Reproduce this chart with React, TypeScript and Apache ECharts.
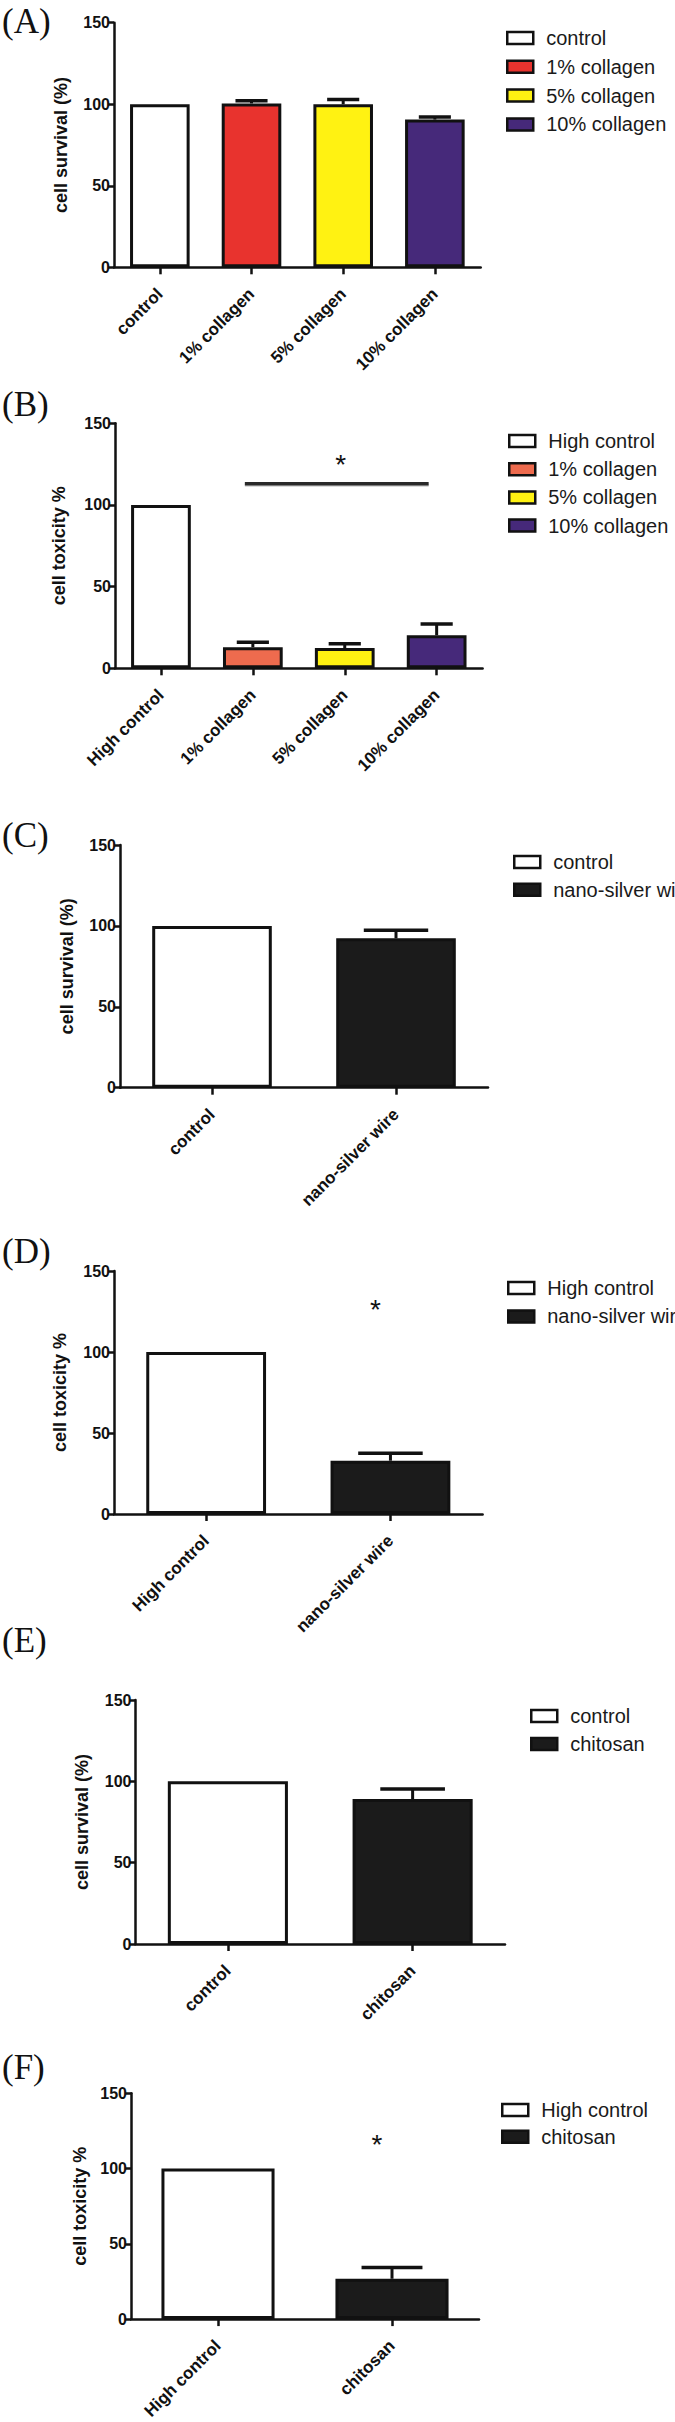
import React, { useEffect, useRef } from "react";
import * as echarts from "echarts";

// ---------- data ----------
const catsA = ["control", "1% collagen", "5% collagen", "10% collagen"];
const meansA = [100, 100.5, 100, 90.6];
const errA = [0, 1.7, 2.9, 1.5];

const catsB = ["High control", "1% collagen", "5% collagen", "10% collagen"];
const meansB = [100, 12.9, 12.4, 20.2];
const errB = [0, 3.0, 2.7, 6.9];
const sigLineB = [1, 3, 113]; // from category, to category, level
const sigStarB = 125;

const catsC = ["control", "nano-silver wire"];
const meansC = [100, 92.3];
const errC = [0, 5.0];

const catsD = ["High control", "nano-silver wire"];
const meansD = [100, 32.9];
const errD = [0, 4.6];
const sigStarD = 130;

const catsE = ["control", "chitosan"];
const meansE = [100, 89.1];
const errE = [0, 6.2];

const catsF = ["High control", "chitosan"];
const meansF = [100, 26.8];
const errF = [0, 7.4];
const sigStarF = 120;

const yTicks = [0, 50, 100, 150];

// ---------- styles ----------
const colorsA = ["#ffffff", "#e8332e", "#fff212", "#46297a"];
const colorsB = ["#ffffff", "#ee6b4e", "#fff212", "#46297a"];
const colorsBW = ["#ffffff", "#1b1b1b"];

const SANS = 'Arial, "Liberation Sans", Helvetica, sans-serif';
const SERIF = '"Times New Roman", "Liberation Serif", serif';
const INK = "#111111";

type Panel = {
  label: string;
  labelTop: number;
  cats: string[];
  means: number[];
  errs: number[];
  colors: string[];
  yName: string;
  grid: { left: number; top: number; width: number; height: number };
  nameGap: number;
  legend: { left: number; top: number; gap: number };
  sigLine?: number[];
  sigLineStar?: number;
  star?: number;
};

const panels: Panel[] = [
  {
    label: "(A)", labelTop: 4, cats: catsA, means: meansA, errs: errA, colors: colorsA,
    yName: "cell survival (%)",
    grid: { left: 114, top: 22.7, width: 366.7, height: 244.6 }, nameGap: 44,
    legend: { left: 506, top: 28, gap: 8.8 },
  },
  {
    label: "(B)", labelTop: 387, cats: catsB, means: meansB, errs: errB, colors: colorsB,
    yName: "cell toxicity %",
    grid: { left: 115, top: 423.3, width: 367.6, height: 245 }, nameGap: 47,
    legend: { left: 508, top: 431, gap: 8.2 },
    sigLine: sigLineB, sigLineStar: sigStarB,
  },
  {
    label: "(C)", labelTop: 818, cats: catsC, means: meansC, errs: errC, colors: colorsBW,
    yName: "cell survival (%)",
    grid: { left: 120, top: 845, width: 368, height: 242.7 }, nameGap: 44,
    legend: { left: 513, top: 852, gap: 7.7 },
  },
  {
    label: "(D)", labelTop: 1234, cats: catsD, means: meansD, errs: errD, colors: colorsBW,
    yName: "cell toxicity %",
    grid: { left: 114, top: 1271, width: 368.6, height: 243 }, nameGap: 45,
    legend: { left: 507, top: 1278, gap: 8.4 },
    star: sigStarD,
  },
  {
    label: "(E)", labelTop: 1623, cats: catsE, means: meansE, errs: errE, colors: colorsBW,
    yName: "cell survival (%)",
    grid: { left: 135.5, top: 1700, width: 369.5, height: 244 }, nameGap: 45,
    legend: { left: 530, top: 1706, gap: 8 },
  },
  {
    label: "(F)", labelTop: 2050, cats: catsF, means: meansF, errs: errF, colors: colorsBW,
    yName: "cell toxicity %",
    grid: { left: 131, top: 2093.3, width: 348, height: 230.7 }, nameGap: 42,
    legend: { left: 501, top: 2100, gap: 6.7 },
    star: sigStarF,
  },
];

function buildOption() {
  const title: any[] = [];
  const grid: any[] = [];
  const xAxis: any[] = [];
  const yAxis: any[] = [];
  const legend: any[] = [];
  const series: any[] = [];

  panels.forEach((p, gi) => {
    title.push({
      text: p.label, left: 2, top: p.labelTop, padding: 0,
      textStyle: { fontFamily: SERIF, fontSize: 35, fontWeight: "normal", color: "#111" },
    });
    grid.push({ left: p.grid.left, top: p.grid.top, width: p.grid.width, height: p.grid.height, containLabel: false });
    xAxis.push({
      type: "category", gridIndex: gi, data: p.cats, boundaryGap: true,
      axisLine: { show: true, lineStyle: { color: INK, width: 2.5 } },
      axisTick: { show: true, alignWithLabel: true, length: 7, lineStyle: { color: INK, width: 2.5 } },
      axisLabel: { show: true, rotate: 45, interval: 0, fontSize: 17, fontWeight: "bold", color: INK, fontFamily: SANS, margin: 24, hideOverlap: false },
      splitLine: { show: false },
    });
    yAxis.push({
      type: "value", gridIndex: gi, min: yTicks[0], max: yTicks[yTicks.length - 1], interval: yTicks[1] - yTicks[0],
      name: p.yName, nameLocation: "middle", nameRotate: 90, nameGap: p.nameGap,
      nameTextStyle: { fontSize: 18, fontWeight: "bold", color: INK, fontFamily: SANS },
      axisLine: { show: true, lineStyle: { color: INK, width: 2.5 } },
      axisTick: { show: true, length: 6, lineStyle: { color: INK, width: 2.5 } },
      axisLabel: { fontSize: 16, fontWeight: "bold", color: INK, fontFamily: SANS, margin: 4 },
      splitLine: { show: false },
    });
    legend.push({
      orient: "vertical", left: p.legend.left, top: p.legend.top, itemGap: p.legend.gap,
      itemWidth: 26, itemHeight: 12, icon: "rect", selectedMode: false, padding: 0,
      itemStyle: { borderColor: INK, borderWidth: 2.5 },
      data: p.cats.map((c, i) => ({ name: c, itemStyle: { color: p.colors[i], borderColor: INK, borderWidth: 2.5 } })),
      textStyle: { fontSize: 20, lineHeight: 20, color: "#1a1a1a", fontFamily: SANS, padding: [0, 0, 0, 8] },
    });
    p.cats.forEach((c, i) => {
      series.push({
        type: "bar", name: c, xAxisIndex: gi, yAxisIndex: gi,
        barWidth: "65%", barGap: "-100%",
        data: p.means.map((m, j) => (j === i ? m : "-")),
        itemStyle: { color: p.colors[i], borderColor: INK, borderWidth: 3 },
        z: 2,
      });
    });
    series.push({
      type: "custom", name: "err" + gi, xAxisIndex: gi, yAxisIndex: gi, z: 4,
      data: p.means.map((m, j) => [j, m, p.errs[j]]).filter((d) => d[2] > 0),
      encode: { x: 0, y: 1 },
      renderItem: (params: any, api: any) => {
        const x = api.value(0), m = api.value(1), e = api.value(2);
        const base = api.coord([x, m]);
        const top = api.coord([x, m + e]);
        const bw = api.size([1, 0])[0];
        const cap = bw * 0.35;
        return {
          type: "group",
          children: [
            { type: "line", shape: { x1: base[0], y1: base[1], x2: top[0], y2: top[1] }, style: { stroke: INK, lineWidth: 3 } },
            { type: "line", shape: { x1: top[0] - cap / 2, y1: top[1], x2: top[0] + cap / 2, y2: top[1] }, style: { stroke: INK, lineWidth: 3.5 } },
          ],
        };
      },
    });
    if (p.sigLine) {
      const [a, b, lvl] = p.sigLine;
      series.push({
        type: "custom", name: "sig" + gi, xAxisIndex: gi, yAxisIndex: gi, z: 5,
        data: [[a, b, lvl, p.sigLineStar]],
        renderItem: (params: any, api: any) => {
          const pa = api.coord([api.value(0), api.value(2)]);
          const pb = api.coord([api.value(1), api.value(2)]);
          const ps = api.coord([api.value(0), api.value(3)]);
          const off = -8;
          const mid = (pa[0] + pb[0]) / 2 + off;
          return {
            type: "group",
            children: [
              { type: "line", shape: { x1: pa[0] + off, y1: pa[1] + 1.5, x2: pb[0] + off, y2: pb[1] + 1.5 }, style: { stroke: "#cfcfcf", lineWidth: 3 } },
              { type: "line", shape: { x1: pa[0] + off, y1: pa[1], x2: pb[0] + off, y2: pb[1] }, style: { stroke: "#2a2a2a", lineWidth: 3.5 } },
              { type: "text", x: mid + 4, y: ps[1], style: { text: "*", fontSize: 28, fontFamily: SANS, fill: INK, align: "center", verticalAlign: "middle" } },
            ],
          };
        },
      });
    }
    if (p.star !== undefined) {
      series.push({
        type: "custom", name: "star" + gi, xAxisIndex: gi, yAxisIndex: gi, z: 5,
        data: [[1, p.star]],
        renderItem: (params: any, api: any) => {
          const pt = api.coord([api.value(0), api.value(1)]);
          return {
            type: "text", x: pt[0] - 15, y: pt[1] + 6,
            style: { text: "*", fontSize: 28, fontFamily: SANS, fill: INK, align: "center", verticalAlign: "middle" },
          };
        },
      });
    }
  });

  return { animation: false, backgroundColor: "#ffffff", title, grid, xAxis, yAxis, legend, series };
}

export default function App() {
  const ref = useRef<HTMLDivElement>(null);
  useEffect(() => {
    if (!ref.current) return;
    const chart = echarts.init(ref.current, undefined, { renderer: "svg" });
    chart.setOption(buildOption() as any);
    return () => chart.dispose();
  }, []);
  return (
    <div
      ref={ref}
      style={{ position: "absolute", left: 0, top: 0, width: 675, height: 2422, background: "#fff" }}
    />
  );
}
